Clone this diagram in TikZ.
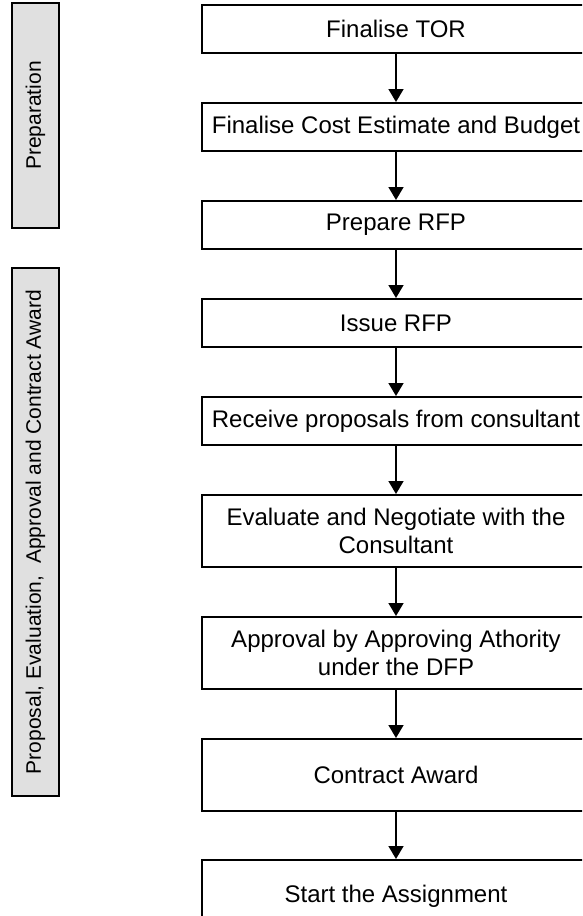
\documentclass[tikz,border=0pt]{standalone}
\usepackage{fontspec}
\setmainfont{Liberation Sans}
\usetikzlibrary{positioning,arrows.meta}
\definecolor{barfill}{HTML}{E0E0E0}

\begin{document}
\begin{tikzpicture}[x=1pt,y=1pt,
		node distance=48pt,
		stepbox/.style={draw,line width=2pt,minimum width=388pt,minimum height=48pt,
		  inner sep=2pt,align=center,font=\fontsize{24}{27.5}\selectfont},
		tallbox/.style={stepbox,minimum height=72pt},
		phasebar/.style={draw,line width=2pt,fill=barfill,rotate=90,minimum height=47pt,
		  inner sep=0pt,font=\fontsize{21}{24}\selectfont},
		flow/.style={line width=1.6pt,-{Triangle[length=13pt,width=15pt]}}]
		  \useasboundingbox (0,0) rectangle (582,-916);
		  \clip (0,0) rectangle (582,-916);
		  % phases
		  \node[phasebar,minimum width=225pt] (prep) at (35.5,-115.5) {Preparation};
		  \node[phasebar,minimum width=528pt] (award) at (35.5,-532) {Proposal, Evaluation,~ Approval and Contract Award};
		  % steps
		  \node[stepbox,anchor=north] (tor) at (396,-4) {Finalise TOR};
		  \node[stepbox,below=of tor] (budget) {Finalise Cost Estimate and Budget};
		  \node[stepbox,below=of budget] (prepare) {Prepare RFP};
		  \node[stepbox,below=of prepare] (issue) {Issue RFP};
		  \node[stepbox,below=of issue] (receive) {Receive proposals from consultant};
		  \node[tallbox,below=of receive] (evaluate) {Evaluate and Negotiate with the\\Consultant};
		  \node[tallbox,below=of evaluate] (approval) {Approval by Approving Athority\\under the DFP};
		  \node[tallbox,below=of approval] (contract) {Contract Award};
		  \node[tallbox,below=47pt of contract] (start) {Start the Assignment};
		  \draw[flow] (tor) -- (budget);
		  \draw[flow] (budget) -- (prepare);
		  \draw[flow] (prepare) -- (issue);
		  \draw[flow] (issue) -- (receive);
		  \draw[flow] (receive) -- (evaluate);
		  \draw[flow] (evaluate) -- (approval);
		  \draw[flow] (approval) -- (contract);
		  \draw[flow] (contract) -- (start);
		    \end{tikzpicture}
\end{document}
